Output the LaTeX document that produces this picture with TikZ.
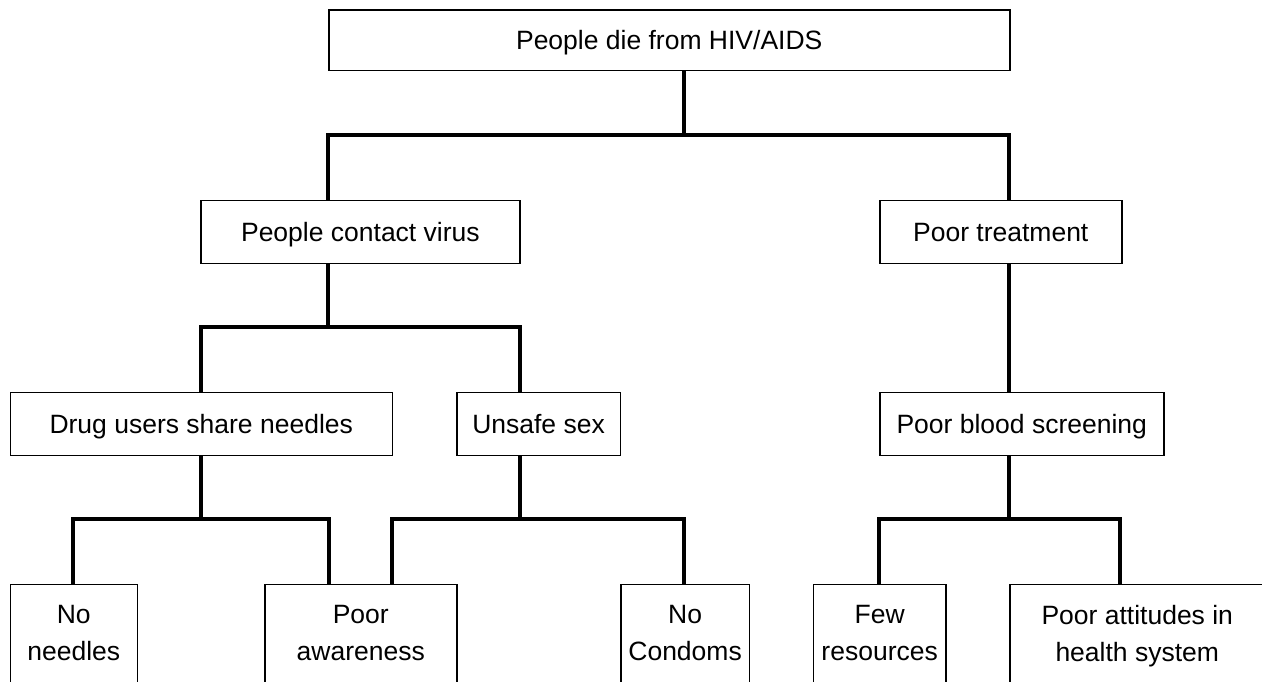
\documentclass[tikz,border=0pt]{standalone}
\usepackage{fontspec}
\setmainfont{Liberation Sans}
\usetikzlibrary{positioning}
\begin{document}
\begin{tikzpicture}[x=1pt,y=-1pt,
  box/.style={draw, line width=1.5pt, rectangle, inner sep=0pt, anchor=north west,
    font=\fontsize{26.5}{37}\selectfont, text height=18.7pt, text depth=0pt},
  leaf/.style={draw, line width=1.5pt, rectangle, inner sep=0pt, anchor=north west,
    minimum height=150pt},
  ltxt/.style={inner sep=0pt, align=center, font=\fontsize{26.5}{37}\selectfont},
  conn/.style={line width=4pt}]
\useasboundingbox (0,0) rectangle (1262,682);
\clip (0,0) rectangle (1262,682);
\fill[white] (0,0) rectangle (1262,682);

% boxes
\node[box, minimum width=681pt, minimum height=60.5pt] (top) at (328,9.5) {People die from HIV/AIDS};
\node[box, minimum width=319.3pt, minimum height=62.8pt] (pcv) at (200,200) {People contact virus};
\node[box, minimum width=242pt, minimum height=62.8pt] (pt) at (879,200) {Poor treatment};
\node[box, minimum width=382pt, minimum height=63.3pt] (drug) at (9.5,391.5) {Drug users share needles};
\node[box, minimum width=163.6pt, minimum height=63.3pt] (unsafe) at (456,391.5) {Unsafe sex};
\node[box, minimum width=284pt, minimum height=63.3pt] (pbs) at (879,391.5) {Poor blood screening};

% leaf boxes (cut by the lower edge)
\node[leaf, minimum width=127pt] (nn) at (9.5,583.5) {};
\node[leaf, minimum width=192pt] (pa) at (264,583.5) {};
\node[leaf, minimum width=128.7pt] (nc) at (620,583.5) {};
\node[leaf, minimum width=132.8pt] (fr) at (812.5,583.5) {};
\node[leaf, minimum width=255pt] (pat) at (1009,583.5) {};

\node[ltxt, below=21.5pt of nn.north] (nnT) {No\\needles};
\node[ltxt, below=21.5pt of pa.north] (paT) {Poor\\awareness};
\node[ltxt, below=21.5pt of nc.north] (ncT) {No\\Condoms};
\node[ltxt, below=21.5pt of fr.north] (frT) {Few\\resources};
\node[ltxt, below=21.5pt of pat.north] (patT) {Poor attitudes in\\health system};

% junction coordinates
\coordinate (b0m) at (684.3,135.3);
\coordinate (b0l) at (328.3,135.3);
\coordinate (b0r) at (1009.3,135.3);
\coordinate (b1m) at (328.3,326.7);
\coordinate (b1l) at (201,326.7);
\coordinate (b1r) at (519.6,326.7);
\coordinate (b2m) at (200.5,519.3);
\coordinate (b2l) at (73,519.3);
\coordinate (b2r) at (328.8,519.3);
\coordinate (b3m) at (519.6,519.3);
\coordinate (b3l) at (391.8,519.3);
\coordinate (b3r) at (684,519.3);
\coordinate (b4m) at (1009.2,519.3);
\coordinate (b4l) at (878.6,519.3);
\coordinate (b4r) at (1120,519.3);

% connectors
\draw[conn] (top.south -| b0m) -- (b0m);
\draw[conn] (pcv.north -| b0l) -- (b0l) -- (b0r) -- (pt.north -| b0r);

\draw[conn] (pcv.south -| b1m) -- (b1m);
\draw[conn] (drug.north -| b1l) -- (b1l) -- (b1r) -- (unsafe.north -| b1r);

\draw[conn] (pt.south -| b0r) -- (pbs.north -| b0r);

\draw[conn] (drug.south -| b2m) -- (b2m);
\draw[conn] (nn.north -| b2l) -- (b2l) -- (b2r) -- (pa.north -| b2r);

\draw[conn] (unsafe.south -| b3m) -- (b3m);
\draw[conn] (pa.north -| b3l) -- (b3l) -- (b3r) -- (nc.north -| b3r);

\draw[conn] (pbs.south -| b4m) -- (b4m);
\draw[conn] (fr.north -| b4l) -- (b4l) -- (b4r) -- (pat.north -| b4r);
\end{tikzpicture}
\end{document}
